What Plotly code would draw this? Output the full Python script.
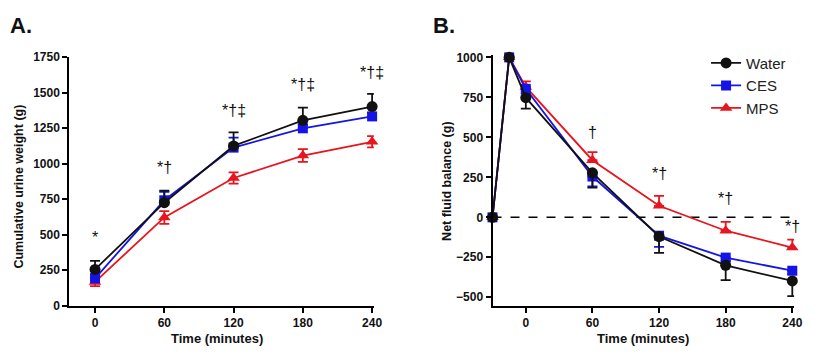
import plotly.graph_objects as go

# ---------------- Data ----------------
time_a = [0, 60, 120, 180, 240]
water_a = [255, 725, 1125, 1305, 1402]
water_a_err = [60, 85, 95, 90, 90]
ces_a = [192, 742, 1113, 1249, 1333]
ces_a_err = [30, 60, 70, 25, 25]
mps_a = [167, 621, 899, 1057, 1154]
mps_a_err = [30, 45, 40, 45, 40]

time_b = [-30, -15, 0, 60, 120, 180, 240]
water_b = [0, 1000, 748, 278, -120, -300, -398]
water_b_err = [0, 0, 68, 92, 102, 93, 95]
ces_b = [0, 1000, 803, 255, -115, -252, -334]
ces_b_err = [0, 0, 30, 62, 70, 20, 20]
mps_b = [0, 1000, 815, 357, 72, -84, -189]
mps_b_err = [0, 0, 35, 50, 62, 55, 50]

sig_a_x = [0, 60, 120, 180, 240]
sig_a_y = [480, 975, 1375, 1555, 1645]
sig_a_txt = ["*", "*†", "*†‡", "*†‡", "*†‡"]

sig_b_x = [60, 120, 180, 240]
sig_b_y = [530, 272, 118, -55]
sig_b_txt = ["†", "*†", "*†", "*†"]

names = ["Water", "CES", "MPS"]
colors = ["#111111", "#1414e6", "#e8141e"]
symbols = ["circle", "square", "triangle-up"]
msizes = [11, 10, 11]

FONT = "Liberation Sans, Arial, sans-serif"

fig = go.Figure()

# Panel A
a_series = [(water_a, dict(type="data", symmetric=False, array=water_a_err, arrayminus=[0]*5)),
            (ces_a, dict(type="data", symmetric=False, array=ces_a_err, arrayminus=[0]*5)),
            (mps_a, dict(type="data", symmetric=True, array=mps_a_err))]
order = [2, 1, 0]
for i in order:
    y, ey = a_series[i]
    ey.update(color=colors[i], thickness=1.8, width=5)
    fig.add_trace(go.Scatter(
        x=time_a, y=y, mode="lines+markers", name=names[i], showlegend=False,
        line=dict(color=colors[i], width=1.8),
        marker=dict(symbol=symbols[i], size=msizes[i], color=colors[i]),
        error_y=ey, xaxis="x", yaxis="y", cliponaxis=False))

# Panel B
b_series = [(water_b, dict(type="data", symmetric=False, array=[0]*7, arrayminus=water_b_err)),
            (ces_b, dict(type="data", symmetric=False, array=[0]*7, arrayminus=ces_b_err)),
            (mps_b, dict(type="data", symmetric=False, array=mps_b_err, arrayminus=[0]*7))]
for i in order:
    y, ey = b_series[i]
    ey.update(color=colors[i], thickness=1.8, width=5)
    fig.add_trace(go.Scatter(
        x=time_b, y=y, mode="lines+markers", name=names[i], showlegend=True,
        legendrank=i + 1,
        line=dict(color=colors[i], width=1.8),
        marker=dict(symbol=symbols[i], size=msizes[i], color=colors[i]),
        error_y=ey, xaxis="x2", yaxis="y2", cliponaxis=False))

TICKFONT = dict(family=FONT, size=12, color="#111", weight="bold")
axis_common = dict(showline=True, linecolor="black", linewidth=2, ticks="outside",
                   ticklen=5, tickwidth=1.8, tickcolor="black", showgrid=False,
                   zeroline=False, tickfont=TICKFONT)

# page has an 8px body margin; figure sized so the page is 818x358
OFF = 8
W, H = 802, 342
def px(xp):
    return (xp - OFF) / W
def py(yp):
    return 1 - (yp - OFF) / H

fig.update_layout(
    width=W, height=H, margin=dict(l=0, r=0, t=0, b=0),
    plot_bgcolor="white", paper_bgcolor="white",
    font=dict(family=FONT, color="#111"),
    xaxis=dict(axis_common, domain=[px(70), px(378)], range=[-22.3, 241.5],
               tickvals=[0, 60, 120, 180, 240], anchor="y"),
    yaxis=dict(axis_common, domain=[py(311), py(52)], range=[0, 1750],
               tickvals=[0, 250, 500, 750, 1000, 1250, 1500, 1750], anchor="x"),
    xaxis2=dict(axis_common, domain=[px(498), px(803)], range=[-30, 241.6],
                tickvals=[0, 60, 120, 180, 240], anchor="y2"),
    yaxis2=dict(axis_common, domain=[py(311), py(50)], range=[-552, 1013],
                tickvals=[-500, -250, 0, 250, 500, 750, 1000], anchor="x2"),
    legend=dict(x=px(714), y=py(41), xanchor="left", yanchor="top",
                font=dict(family=FONT, size=15, color="#222"),
                bgcolor="rgba(0,0,0,0)", itemwidth=30),
    showlegend=True,
)

fig.add_shape(type="line", xref="x2", yref="y2", x0=-30, x1=240, y0=0, y1=0,
              line=dict(color="black", width=1.6, dash="dash"), layer="below")

ann = []
for xx, yy, t in zip(sig_a_x, sig_a_y, sig_a_txt):
    ann.append(dict(x=xx, y=yy, xref="x", yref="y", text=t, showarrow=False,
                    xanchor="center", yanchor="middle",
                    font=dict(family=FONT, size=16, color="#111")))
for xx, yy, t in zip(sig_b_x, sig_b_y, sig_b_txt):
    ann.append(dict(x=xx, y=yy, xref="x2", yref="y2", text=t, showarrow=False,
                    xanchor="center", yanchor="middle",
                    font=dict(family=FONT, size=16, color="#111")))

def pann(x, y, text, size, angle=0, xanchor="center"):
    return dict(x=px(x), y=py(y), xref="paper", yref="paper", text=text, showarrow=False,
                xanchor=xanchor, yanchor="middle", textangle=angle,
                font=dict(family=FONT, size=size, color="#111"))

ann += [
    pann(8, 19, "<b>A.</b>", 22, xanchor="left"),
    pann(436, 19, "<b>B.</b>", 22, xanchor="left"),
    pann(219, 345, "<b>Time (minutes)</b>", 13),
    pann(650, 345, "<b>Time (minutes)</b>", 13),
    pann(19, 187, "<b>Cumulative urine weight (g)</b>", 12.5, angle=-90),
    pann(452, 182, "<b>Net fluid balance (g)</b>", 12.5, angle=-90),
]
fig.update_layout(annotations=ann)

fig.write_html("out.html")
